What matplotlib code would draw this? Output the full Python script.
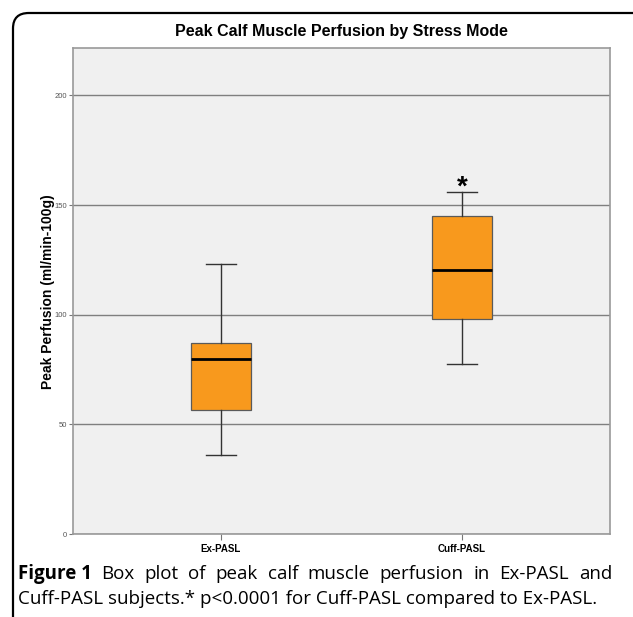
import matplotlib
matplotlib.use('Agg')
import matplotlib.pyplot as plt
from matplotlib.patches import FancyBboxPatch

# box plot summary values
groups = ['Ex-PASL', 'Cuff-PASL']
whis_low = [36, 77.5]
q1 = [56.5, 98]
median = [80, 120.5]
q3 = [87, 145]
whis_high = [123, 156]
y_ticks = [0, 50, 100, 150, 200]

caption_bold = 'Figure 1'
caption_line1 = 'Box plot of peak calf muscle perfusion in Ex-PASL and'
caption_line2 = 'Cuff-PASL subjects.* p<0.0001 for Cuff-PASL compared to Ex-PASL.'

W, H = 633, 617
fig = plt.figure(figsize=(W / 100, H / 100), dpi=100)

# rounded frame around the figure panel
frame = FancyBboxPatch((13 / W, -0.05), 1.2, 1.05 - 13 / H,
                       boxstyle='round,pad=0,rounding_size=0.025',
                       transform=fig.transFigure, fill=False,
                       edgecolor='black', linewidth=1.6, clip_on=False)
fig.patches.append(frame)

ax = fig.add_axes([0.1149, 0.1345, 0.8488, 0.7872])
ax.set_facecolor('#F0F0F0')

stats = []
for i, name in enumerate(groups):
    stats.append({'label': name, 'whislo': whis_low[i], 'q1': q1[i],
                  'med': median[i], 'q3': q3[i], 'whishi': whis_high[i],
                  'fliers': []})

bp = ax.bxp(stats, positions=[1, 2], widths=0.25, patch_artist=True,
            showfliers=False,
            boxprops=dict(facecolor='#F8991D', edgecolor='#5a5a5a', linewidth=0.9),
            medianprops=dict(color='black', linewidth=2),
            whiskerprops=dict(color='#333333', linewidth=1),
            capprops=dict(color='#333333', linewidth=1),
            capwidths=0.125, zorder=3)

# significance marker
ax.text(2, whis_high[1] + 2, '*', ha='center', va='center',
        fontsize=20, fontweight='bold', family='Liberation Sans', zorder=4)

ax.set_xlim(0.387, 2.613)
ax.set_ylim(0, 221.5)
ax.set_yticks(y_ticks)
ax.set_yticklabels([str(t) for t in y_ticks], fontsize=5.5, color='#555555',
                   family='Liberation Sans')
ax.set_xticks([1, 2])
ax.set_xticklabels(groups, fontsize=7, fontweight='bold', family='Liberation Sans')
ax.tick_params(axis='y', length=3, width=0.8, color='#777777', pad=1)
ax.tick_params(axis='x', length=4, width=0.8, color='#777777', pad=3)
ax.yaxis.grid(True, color='#7f7f7f', linewidth=1)
ax.set_axisbelow(True)
for s in ax.spines.values():
    s.set_color('#999999')
    s.set_linewidth(1.2)

ax.set_ylabel('Peak Perfusion (ml/min-100g)', fontsize=10, fontweight='bold',
              family='Liberation Sans', labelpad=-0.5)
ax.set_title('Peak Calf Muscle Perfusion by Stress Mode', fontsize=11.5,
             fontweight='bold', family='Liberation Sans', pad=9)

# caption, first line justified between the left and right margins
cap_left, cap_right = 18, 612
y1, y2 = 1 - 574 / H, 1 - 599 / H
fs = 13.5
fig.canvas.draw()
r = fig.canvas.get_renderer()
words = [(caption_bold, 'bold')] + [(w, 'normal') for w in caption_line1.split()]
items = []
total = 0
for w, wt in words:
    t = fig.text(0, y1, w, fontsize=fs, fontweight=wt, family='Open Sans', va='center')
    wd = t.get_window_extent(r).width
    items.append((t, wd))
    total += wd
gap = (cap_right - cap_left - total) / (len(items) - 1)
x = cap_left
for t, wd in items:
    t.set_x(x / W)
    x += wd + gap
fig.text(cap_left / W, y2, caption_line2, fontsize=fs, family='Open Sans', va='center')

fig.savefig('out.png', dpi=100, facecolor='white')
